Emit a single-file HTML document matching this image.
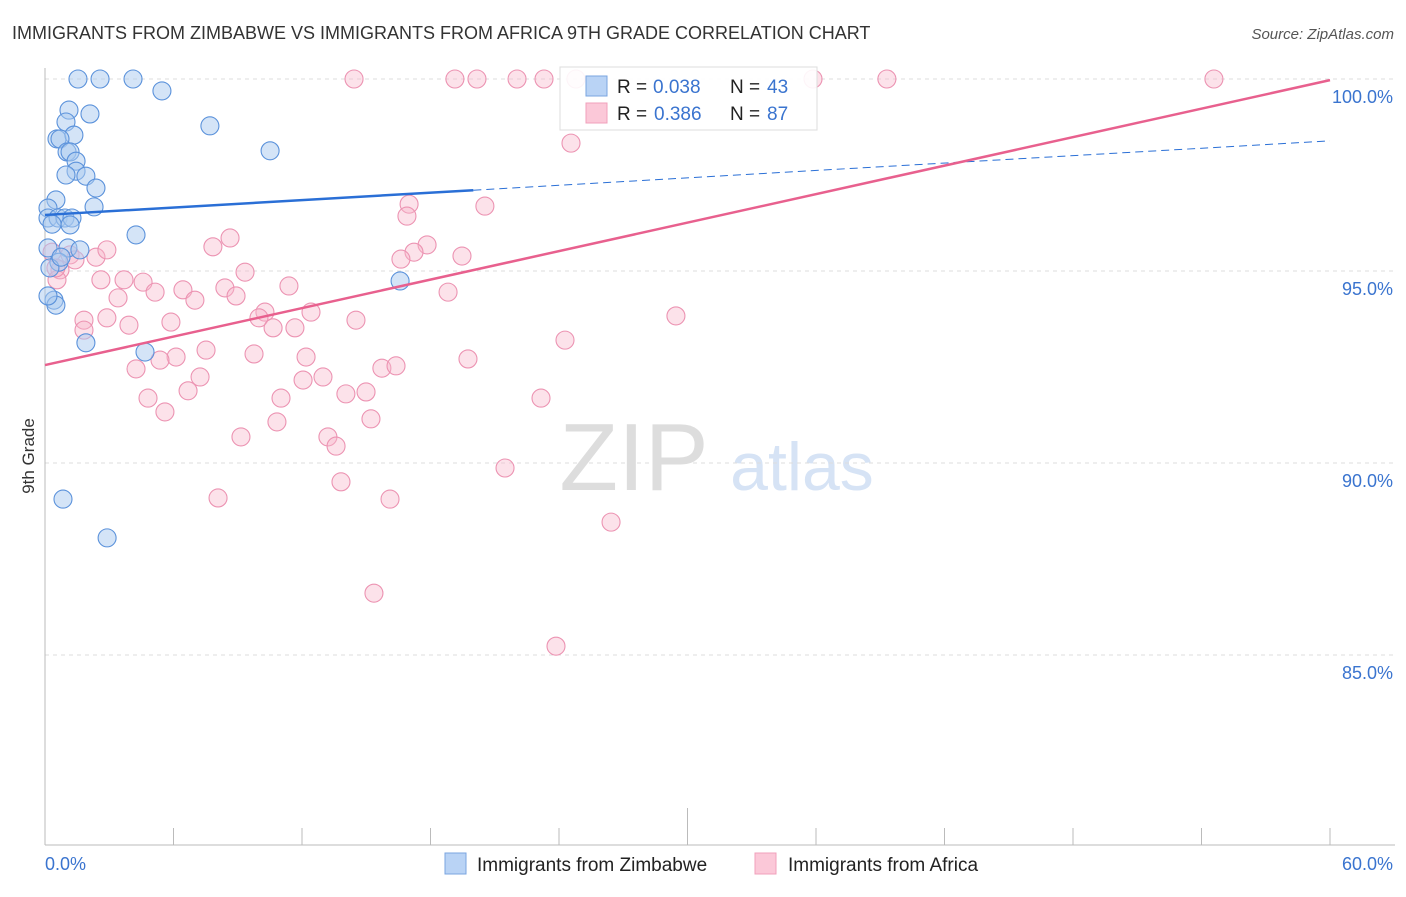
<!DOCTYPE html>
<html><head><meta charset="utf-8">
<style>
body{margin:0;background:#fff;font-family:"Liberation Sans",sans-serif;}
svg text{font-family:"Liberation Sans",sans-serif;}
</style></head>
<body>
<svg id="chart" width="1406" height="892" xmlns="http://www.w3.org/2000/svg">
<text x="12" y="39" font-size="18" fill="#333">IMMIGRANTS FROM ZIMBABWE VS IMMIGRANTS FROM AFRICA 9TH GRADE CORRELATION CHART</text>
<text x="1394" y="39" font-size="15" fill="#555" font-style="italic" text-anchor="end">Source: ZipAtlas.com</text>
<text x="34" y="456" font-size="17" fill="#333" text-anchor="middle" transform="rotate(-90 34 456)">9th Grade</text>
<g>
<text x="634" y="490" font-size="96" fill="#ddd" text-anchor="middle" font-family="Liberation Serif,serif">ZIP</text>
<text x="802" y="490" font-size="68" fill="#d6e3f5" text-anchor="middle">atlas</text>
</g>
<g id="grid"></g>
<g id="axes"></g>
<g id="pts"></g>
<g id="lines"></g>
<g>
<rect x="560" y="67" width="257" height="63" fill="#fff" fill-opacity="0.9" stroke="#ddd"/>
<rect x="586" y="76" width="21" height="20" fill="#b9d3f5" stroke="#7aa5e0"/>
<rect x="586" y="103" width="21" height="20" fill="#fbc8d8" stroke="#f0a0bb"/>
<g font-size="19">
<text x="617" y="93" fill="#222">R =</text><text x="653" y="93" fill="#3a74cf">0.038</text>
<text x="730" y="93" fill="#222">N =</text><text x="767" y="93" fill="#3a74cf">43</text>
</g>
<g font-size="19">
<text x="617" y="120" fill="#222">R =</text><text x="654" y="120" fill="#3a74cf">0.386</text>
<text x="730" y="120" fill="#222">N =</text><text x="767" y="120" fill="#3a74cf">87</text>
</g>
</g>
<g>
<rect x="445" y="853" width="21" height="21" fill="#b9d3f5" stroke="#7aa5e0"/>
<text x="477" y="871" font-size="19" fill="#222">Immigrants from Zimbabwe</text>
<rect x="755" y="853" width="21" height="21" fill="#fbc8d8" stroke="#f0a0bb"/>
<text x="788" y="871" font-size="19" fill="#222">Immigrants from Africa</text>
</g>
</svg>
<script>
const xTickLabels=["0.0%","60.0%"];
const yTicks=[100,95,90,85];
const yTickLabels=["100.0%","95.0%","90.0%","85.0%"];
const blueX=[1.54,2.57,4.11,5.46,1.12,2.10,7.70,0.98,0.56,1.35,0.70,10.51,1.03,1.17,1.45,1.45,0.98,1.91,2.38,0.51,2.29,0.14,0.14,0.61,0.93,1.26,1.17,0.33,4.25,0.14,1.07,1.63,0.65,0.23,0.42,0.51,0.14,1.91,4.67,16.58,0.84,2.90,0.75];
const blueY=[100,100,100,99.69,99.19,99.09,98.78,98.88,98.44,98.54,98.44,98.13,98.10,98.10,97.86,97.60,97.50,97.47,97.16,96.85,96.67,96.64,96.38,96.38,96.38,96.38,96.20,96.22,95.94,95.60,95.60,95.55,95.23,95.08,94.24,94.11,94.35,93.13,92.89,94.74,89.06,88.05,95.36];
const pinkX=[14.43,19.14,20.17,22.04,23.30,24.79,35.86,39.31,54.58,24.56,17.00,20.54,16.90,8.64,7.84,17.84,17.23,19.47,16.62,9.34,2.38,1.17,2.89,0.70,0.56,2.61,3.69,4.58,5.14,6.44,8.40,8.92,7.00,11.39,3.41,18.82,10.27,12.42,9.99,14.52,2.89,1.82,1.82,3.92,5.88,11.67,10.65,29.46,24.28,7.52,9.76,12.19,6.12,5.37,19.75,15.73,16.39,4.25,7.24,12.05,12.98,6.68,11.02,14.05,14.99,4.81,23.16,5.60,10.83,15.22,9.15,13.21,13.59,21.48,13.82,8.08,16.11,26.43,15.36,23.86,0.51,0.33,1.40];
const pinkY=[100,100,100,100,100,100,100,100,100,98.33,96.74,96.69,96.43,95.86,95.63,95.68,95.49,95.39,95.31,94.97,95.36,95.42,95.55,95.03,94.77,94.77,94.77,94.71,94.45,94.51,94.56,94.35,94.24,94.61,94.30,94.45,93.93,93.93,93.78,93.72,93.78,93.72,93.46,93.59,93.67,93.52,93.52,93.83,93.20,92.94,92.84,92.76,92.76,92.68,92.71,92.47,92.53,92.45,92.24,92.16,92.24,91.88,91.69,91.80,91.85,91.69,91.69,91.33,91.07,91.15,90.68,90.68,90.44,89.87,89.51,89.09,89.06,88.46,86.61,85.23,95.08,95.49,95.29];
const blueTrend=[96.46,98.39];
const pinkTrend=[92.55,99.97];
const X=v=>45+v/60*1285;
const Y=v=>79+(100-v)*38.4;
const NS="http://www.w3.org/2000/svg";
function mk(tag,attrs,parent){const e=document.createElementNS(NS,tag);for(const k in attrs)e.setAttribute(k,attrs[k]);parent.appendChild(e);return e;}
const grid=document.getElementById('grid'),axes=document.getElementById('axes'),pts=document.getElementById('pts'),lines=document.getElementById('lines');
yTicks.forEach((t,i)=>{
 const l=mk('line',{x1:45,x2:1395,y1:Y(t),y2:Y(t),stroke:'#ddd','stroke-dasharray':'4,4'},grid);
 
 
 const tx=mk('text',{x:1393,y:Y(t)+24,'font-size':18,fill:'#3a74cf','text-anchor':'end'},axes);
 tx.textContent=yTickLabels[i];
 
 
});
const la=mk('line',{x1:45,x2:45,y1:68,y2:845,stroke:'#bbb'},axes);


const lb=mk('line',{x1:45,x2:1395,y1:845,y2:845,stroke:'#bbb'},axes);


for(let i=0;i<=10;i++){
 const v=i*6;
 const t=mk('line',{x1:X(v),x2:X(v),y1:i==5?808:828,y2:845,stroke:'#bbb'},axes);
 
 
}
const xl0=mk('text',{x:45,y:870,'font-size':18,fill:'#3a74cf'},axes);xl0.textContent=xTickLabels[0];


const xl1=mk('text',{x:1393,y:870,'font-size':18,fill:'#3a74cf','text-anchor':'end'},axes);xl1.textContent=xTickLabels[1];


pinkX.forEach((x,i)=>{
 const c=mk('circle',{cx:X(x),cy:Y(pinkY[i]),r:9,fill:'#f7b6cb','fill-opacity':0.4,stroke:'#ec93b2','stroke-width':1.1},pts);
 
 
});
blueX.forEach((x,i)=>{
 const c=mk('circle',{cx:X(x),cy:Y(blueY[i]),r:9,fill:'#a9c9f0','fill-opacity':0.5,stroke:'#5b92db','stroke-width':1.1},pts);
 
 
});
const by=v=>blueTrend[0]+(blueTrend[1]-blueTrend[0])*v/60;
const b1=mk('line',{x1:X(0),y1:Y(by(0)),x2:X(20),y2:Y(by(20)),stroke:'#2a6fd6','stroke-width':2.5},lines);


const b2=mk('line',{x1:X(20),y1:Y(by(20)),x2:X(60),y2:Y(by(60)),stroke:'#2a6fd6','stroke-width':1,'stroke-dasharray':'8,5'},lines);


const p1=mk('line',{x1:X(0),y1:Y(pinkTrend[0]),x2:X(60),y2:Y(pinkTrend[1]),stroke:'#e8608e','stroke-width':2.5},lines);


</script>
</body></html>
